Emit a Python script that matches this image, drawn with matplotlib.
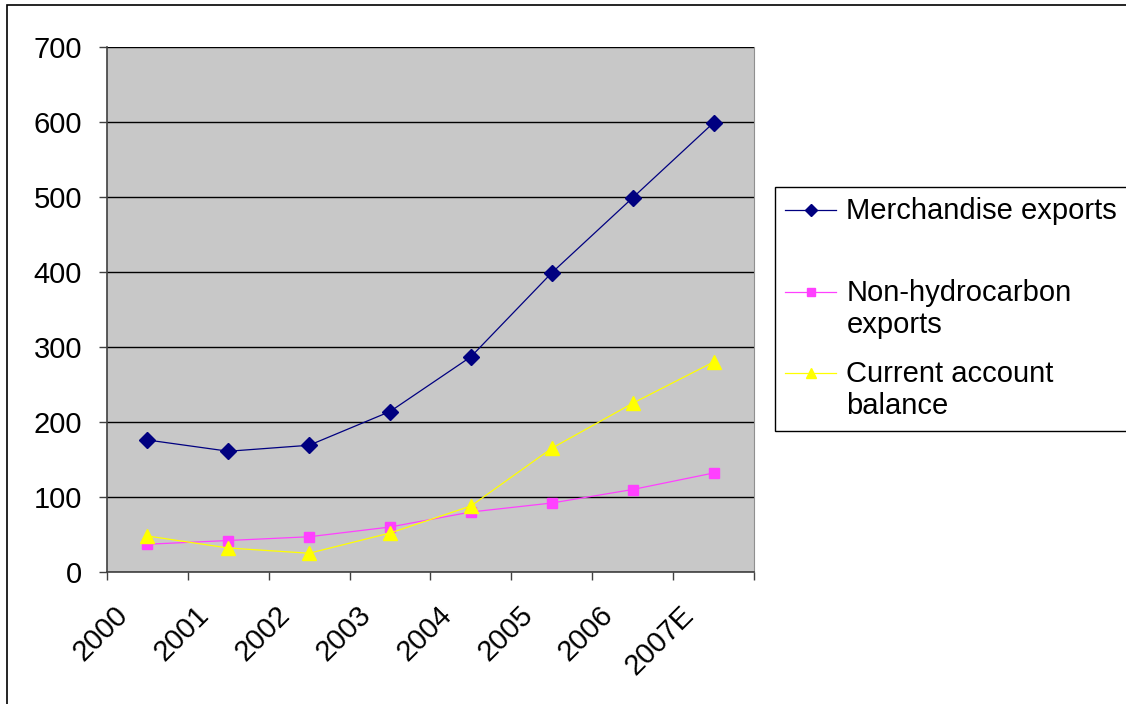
import matplotlib
matplotlib.use("Agg")
import matplotlib.pyplot as plt
import matplotlib.transforms as mtransforms
from matplotlib.patches import Rectangle
from matplotlib.legend_handler import HandlerLine2D
import numpy as np

years = ["2000", "2001", "2002", "2003", "2004", "2005", "2006", "2007E"]
merchandise = [176, 161, 169, 214, 287, 399, 499, 599]
non_hydrocarbon = [37, 42, 47, 60, 80, 92, 110, 132]
current_account = [48, 32, 25, 52, 88, 165, 225, 280]
y_ticks = [0, 100, 200, 300, 400, 500, 600, 700]

plt.rcParams['font.family'] = ['Liberation Sans', 'DejaVu Sans']

W, H = 1126, 704
fig = plt.figure(figsize=(W / 100, H / 100), dpi=100)
fig.patch.set_facecolor('white')

# outer chart border (left/top visible)
fig.add_artist(Rectangle((7 / W, -0.1), 1.2, 1 - 5 / H + 0.1, transform=fig.transFigure,
                         fill=False, edgecolor='black', linewidth=1.2))

ax = fig.add_axes([107 / W, 1 - 572 / H, (754 - 107) / W, (572 - 47) / H])
ax.set_facecolor('#c8c8c8')

x = np.arange(len(years))
ax.plot(x, merchandise, color='#000080', lw=0.9, marker='D', ms=8, mec='#000080', mfc='#000080',
        label='Merchandise exports\n ', zorder=5)
ax.plot(x, non_hydrocarbon, color='#ff40ff', lw=0.9, marker='s', ms=7.5, mec='#ff40ff', mfc='#ff40ff',
        label='Non-hydrocarbon\nexports', zorder=4)
ax.plot(x, current_account, color='#ffff00', lw=0.9, marker='^', ms=9.5, mec='#ffff00', mfc='#ffff00',
        label='Current account\nbalance', zorder=4)

ax.set_xlim(-0.5, len(years) - 0.5)
ax.set_ylim(0, 700)
ax.set_yticks(y_ticks)
ax.set_yticklabels([str(v) for v in y_ticks], fontsize=21)
ax.yaxis.grid(True, color='black', lw=1.0)
ax.set_axisbelow(True)

# category boundaries as major ticks, labels at centers as minor ticks
ax.set_xticks(np.arange(-0.5, len(years), 1.0))
ax.set_xticklabels([])
ax.set_xticks(x, minor=True)
ax.set_xticklabels(years, minor=True, fontsize=21, rotation=45, ha='right', va='baseline',
                   rotation_mode='anchor')
ax.tick_params(axis='x', which='minor', length=0, pad=32)
ax.tick_params(axis='both', which='major', length=6, width=1, color='#404040', direction='out')
ax.tick_params(axis='y', pad=12)
offset = mtransforms.ScaledTranslation(-18 / 100, 0, fig.dpi_scale_trans)
for lab in ax.get_xticklabels(minor=True):
    lab.set_transform(lab.get_transform() + offset)

ax.spines['top'].set_visible(False)
ax.spines['right'].set_color('#909090')
ax.spines['left'].set_color('#404040')
ax.spines['bottom'].set_color('#404040')
ax.spines['left'].set_linewidth(1.2)
ax.spines['bottom'].set_linewidth(1.2)


class FirstLineHandler(HandlerLine2D):
    """Place the legend handle next to the first line of a two-line label."""
    def __init__(self, dy, **kw):
        super().__init__(**kw)
        self.dy = dy

    def create_artists(self, legend, orig_handle, xdescent, ydescent, width, height,
                       fontsize, trans):
        arts = super().create_artists(legend, orig_handle, xdescent, ydescent, width,
                                      height, fontsize, trans)
        for a in arts:
            a.set_ydata(np.asarray(a.get_ydata()) + self.dy)
        return arts


fs = 21
handles, labels = ax.get_legend_handles_labels()
hmap = {h: FirstLineHandler(dy=0.62 * fs) for h in handles}
leg = ax.legend(handles, labels, handler_map=hmap,
                loc='upper left', bbox_to_anchor=(775 / W, 1 - 187 / H),
                bbox_transform=fig.transFigure, fontsize=fs, frameon=True, fancybox=False,
                edgecolor='black', framealpha=1, borderpad=0.35, borderaxespad=0,
                handlelength=1.75, handletextpad=0.35, labelspacing=0.72, markerscale=0.8)
leg.get_frame().set_linewidth(1.0)

fig.savefig('out.png', dpi=100, facecolor='white')
